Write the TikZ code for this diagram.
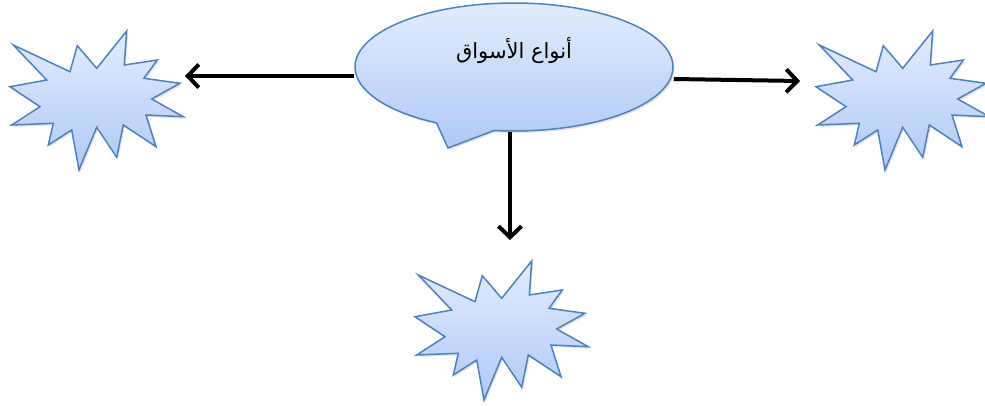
\documentclass[tikz,border=0pt]{standalone}
\usepackage{fontspec}
\newfontfamily\arabicfont[Script=Arabic]{DejaVu Sans}
\TeXXeTstate=1
\usetikzlibrary{shapes.callouts,arrows.meta,shadows}
\definecolor{edgeblue}{HTML}{4F81BD}
\definecolor{topblue}{HTML}{E3ECFD}
\definecolor{botblue}{HTML}{AFC9F6}
\begin{document}
\begin{tikzpicture}[x=1pt, y=-1pt,
    bluefill/.style={draw=edgeblue, line width=1.5pt, top color=topblue,
      bottom color=botblue, drop shadow={opacity=0.22, shadow xshift=1.5pt,
        shadow yshift=-2pt}},
    burst/.pic={\path[bluefill, line join=miter] (-83.4,-55.5) --
      (-26.7,-28.8) -- (-19.4,-54.8) -- (0,-32.2) -- (30,-69.5) --
      (27.6,-35.5) -- (60.6,-40.5) -- (47.3,-22.2) -- (83.3,-17.2) --
      (55,-1.5) -- (86.6,16.2) -- (49.3,14.5) -- (59.3,46.2) --
      (26.6,24.5) -- (20,56.8) -- (0,26.8) -- (-17.7,69.5) -- (-25,29.5)
      -- (-48.4,44.5) -- (-43.4,22.8) -- (-85,24.5) -- (-56.7,6.2) --
      (-86.7,-13.8) -- (-50,-20.5) -- cycle;},
    link/.style={-{Straight Barb[length=11pt,width=23pt]}, line width=4pt}]
  \useasboundingbox (0,0) rectangle (985,405);
  \node [ellipse callout, bluefill, minimum width=318pt, minimum height=128pt,
    callout absolute pointer={(448,148)}, callout pointer arc=22] (types)
    at (514,67) {\raisebox{9pt}[0pt][0pt]{\fontsize{21}{25}\selectfont
        \arabicfont\beginR أنواع الأسواق\endR}};
  \pic at (96.7,100.5) {burst}; \pic at (902.7,100.5) {burst};
  \pic at (501.7,330.5) {burst};
  \coordinate (left) at (185,76); \coordinate (right) at (800,81);
  \coordinate (down) at (510,240);
  \begin{scope}[link]
    \draw ([yshift=-9pt]types.west) -- (left); \draw
    ([yshift=-12pt]types.east) -- (right); \draw (types.south -| down) --
    (down);
  \end{scope}
\end{tikzpicture}
\end{document}
